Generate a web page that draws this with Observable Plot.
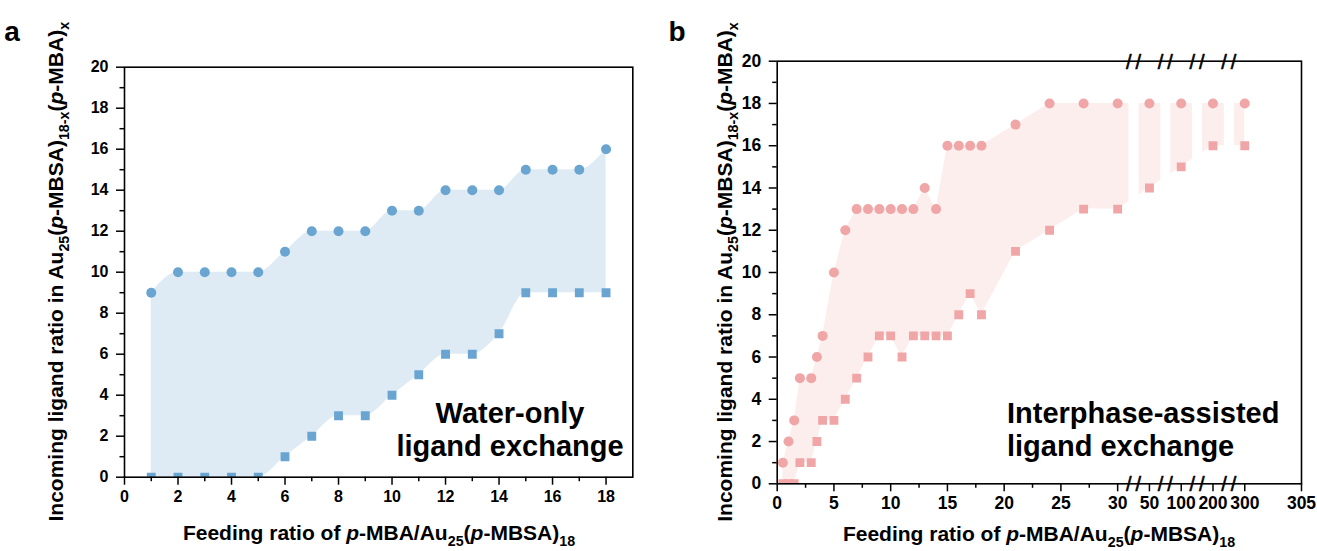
<!DOCTYPE html>
<html><head><meta charset="utf-8">
<script src="https://cdn.jsdelivr.net/npm/d3@7"></script>
<script src="https://cdn.jsdelivr.net/npm/@observablehq/plot@0.6"></script>
<style>
body{margin:0;background:#fff;}
#wrap{position:relative;width:1317px;height:551px;overflow:hidden;font-family:"Liberation Sans",Arial,sans-serif;}
#wrap svg{position:absolute;top:0;}
</style></head><body><div id="wrap"></div>
<script>
// ---------- Panel a: water-only ligand exchange ----------
const feedA  = [1,2,3,4,5,6,7,8,9,10,11,12,13,14,15,16,17,18];
const upperA = [9,10,10,10,10,11,12,12,12,13,13,14,14,14,15,15,15,16];
const lowerA = [0,0,0,0,0,1,2,3,3,4,5,6,6,7,9,9,9,9];

// ---------- Panel b: interphase-assisted ligand exchange ----------
const feedB  = [0.5,1,1.5,2,3,3.5,4,5,6,7,8,9,10,11,12,13,14,15,16,17,18,21,24,27,30,50,100,200,300];
const upperB = [1,2,3,5,5,6,7,10,12,13,13,13,13,13,13,14,13,16,16,16,16,17,18,18,18,18,18,18,18];
const lowerB = [0,0,0,1,1,2,3,3,4,5,6,7,7,6,7,7,7,7,8,9,8,11,12,13,13,14,15,16,16];

// axis configuration
const yTicks = [0,2,4,6,8,10,12,14,16,18,20];
const yMinor = [1,3,5,7,9,11,13,15,17,19];
const xTicksA = [0,2,4,6,8,10,12,14,16,18];
const xMinorA = [1,3,5,7,9,11,13,15,17];
const xDomainB = [0,30,50,100,200,300,305];      // broken-axis breakpoints
const xSlotsB  = [0,30,32.8,35.6,38.4,41.2,46.2]; // relative axis length of each breakpoint
const xTicksB = [0,5,10,15,20,25,30,50,100,200,300,305];
const xMinorB = [2.5,7.5,12.5,17.5,22.5,27.5];
const xBreaksB = [40,75,150,250];

const dataA = feedA.map((f,i)=>({feed:f, upper:upperA[i], lower:lowerA[i]}));
const dataB = feedB.map((f,i)=>({feed:f, upper:upperB[i], lower:lowerB[i]}));

const FONT = '"Liberation Sans", Arial, sans-serif';
const baseStyle = {fontFamily: FONT, fontSize: "16px", fontWeight: "bold", color: "black", background: "transparent", overflow: "visible"};
const blueDot = "#6aa5d1", blueFill = "#deebf5";
const pinkDot = "#f0a6a6", pinkFill = "#fdeeee";

function axes(xt, xm, fs){
  return [
    Plot.axisX({ticks: xt, tickSize: 8, tickPadding: 5, strokeWidth: 1.5, label: null, fontSize: fs, fontWeight: "bold"}),
    Plot.axisX({ticks: xm, tickSize: 4.5, tickFormat: () => "", strokeWidth: 1.5, label: null}),
    Plot.axisY({ticks: yTicks, tickSize: 8, tickPadding: 8, strokeWidth: 1.5, label: null, fontSize: fs, fontWeight: "bold"}),
    Plot.axisY({ticks: yMinor, tickSize: 4.5, tickFormat: () => "", strokeWidth: 1.5, label: null})
  ];
}

// Panel a
const svgA = Plot.plot({
  width: 660, height: 551,
  marginLeft: 124, marginRight: 27.7, marginTop: 66.7, marginBottom: 74.3,
  x: {domain: [0,19]},
  y: {domain: [0,20]},
  style: baseStyle,
  marks: [
    Plot.areaY(dataA, {x: "feed", y1: "lower", y2: "upper", fill: blueFill, curve: "monotone-x"}),
    Plot.dot(dataA, {x: "feed", y: "upper", r: 5, fill: blueDot, symbol: "circle", clip: true}),
    Plot.dot(dataA, {x: "feed", y: "lower", r: 5, fill: blueDot, symbol: "square", clip: true}),
    Plot.frame({stroke: "black", strokeWidth: 1.6}),
    ...axes(xTicksA, xMinorA, 16)
  ]
});
svgA.style.left = "0px";

// Panel b
const WB = 657, mlB = 116.7, mrB = 16;
const pwB = WB - mlB - mrB;
const rangeB = xSlotsB.map(s => mlB + s / xSlotsB[xSlotsB.length-1] * pwB);
const breakMark = {fontSize: 20, fontWeight: "normal", stroke: "black", strokeWidth: 0.6, fill: "black", dy: 1, text: () => "/\u2009/"};
const svgB = Plot.plot({
  width: WB, height: 551,
  marginLeft: mlB, marginRight: mrB, marginTop: 60.7, marginBottom: 67.7,
  x: {type: "linear", domain: xDomainB, range: rangeB},
  y: {domain: [0,20]},
  style: baseStyle,
  marks: [
    Plot.areaY(dataB, {x: "feed", y1: "lower", y2: "upper", fill: pinkFill, curve: "linear"}),
    Plot.dot(dataB, {x: "feed", y: "upper", r: 5, fill: pinkDot, symbol: "circle", clip: true}),
    Plot.dot(dataB, {x: "feed", y: "lower", r: 5, fill: pinkDot, symbol: "square", clip: true}),
    Plot.frame({stroke: "black", strokeWidth: 1.6}),
    Plot.ruleX(xBreaksB, {x: d => d, y1: 0, y2: 20, insetTop: -3, insetBottom: -3, stroke: "white", strokeWidth: 10}),
    Plot.text(xBreaksB, {x: d => d, y: 0, ...breakMark}),
    Plot.text(xBreaksB, {x: d => d, y: 20, ...breakMark}),
    ...axes(xTicksB, xMinorB, 17.5)
  ]
});
svgB.style.left = "660px";

const wrap = document.getElementById("wrap");
wrap.appendChild(svgA);
wrap.appendChild(svgB);

// rich text helper (italic + subscripts)
function rich(textSel, parts, fs){
  let shifted = false;
  const sh = fs * 0.3;
  parts.forEach(p => {
    const t = textSel.append("tspan").text(p.t);
    if (p.i) t.attr("font-style", "italic");
    if (p.sub) {
      t.attr("font-size", fs * 0.68);
      if (!shifted) { t.attr("dy", sh); shifted = true; }
    } else if (shifted) { t.attr("dy", -sh); shifted = false; }
  });
}
const yTitle = [{t:"Incoming ligand ratio in Au"},{t:"25",sub:true},{t:"("},{t:"p",i:true},{t:"-MBSA)"},{t:"18-x",sub:true},{t:"("},{t:"p",i:true},{t:"-MBA)"},{t:"x",sub:true}];
const xTitle = [{t:"Feeding ratio of "},{t:"p",i:true},{t:"-MBA/Au"},{t:"25",sub:true},{t:"("},{t:"p",i:true},{t:"-MBSA)"},{t:"18",sub:true}];

function decorate(svg, o){
  const s = d3.select(svg);
  const g = s.append("g").attr("font-family", FONT).attr("font-weight", "bold").attr("fill", "black");
  g.append("text").attr("x", o.labelX).attr("y", 41).attr("font-size", 28).text(o.label);
  const yt = g.append("text").attr("transform", `translate(${o.yTitleX},${o.yTitleY}) rotate(-90)`).attr("text-anchor", "middle").attr("font-size", 21);
  rich(yt, yTitle, 21);
  const xt = g.append("text").attr("x", o.xTitleX).attr("y", o.xTitleY).attr("text-anchor", "middle").attr("font-size", 21);
  rich(xt, xTitle, 21);
  const ann = g.append("text").attr("font-size", 29).attr("text-anchor", o.annAnchor);
  o.ann.forEach((line, i) => ann.append("tspan").attr("x", o.annX).attr("y", o.annY[i]).text(line));
}
decorate(svgA, {label: "a", labelX: 12, yTitleX: 63, yTitleY: 271.7, xTitleX: 379, xTitleY: 540,
  ann: ["Water-only", "ligand exchange"], annX: 510, annY: [423, 456], annAnchor: "middle"});
decorate(svgB, {label: "b", labelX: 17, yTitleX: 72, yTitleY: 272, xTitleX: 379, xTitleY: 541,
  ann: ["Interphase-assisted", "ligand exchange"], annX: 347, annY: [423, 456], annAnchor: "start"});
</script></body></html>
